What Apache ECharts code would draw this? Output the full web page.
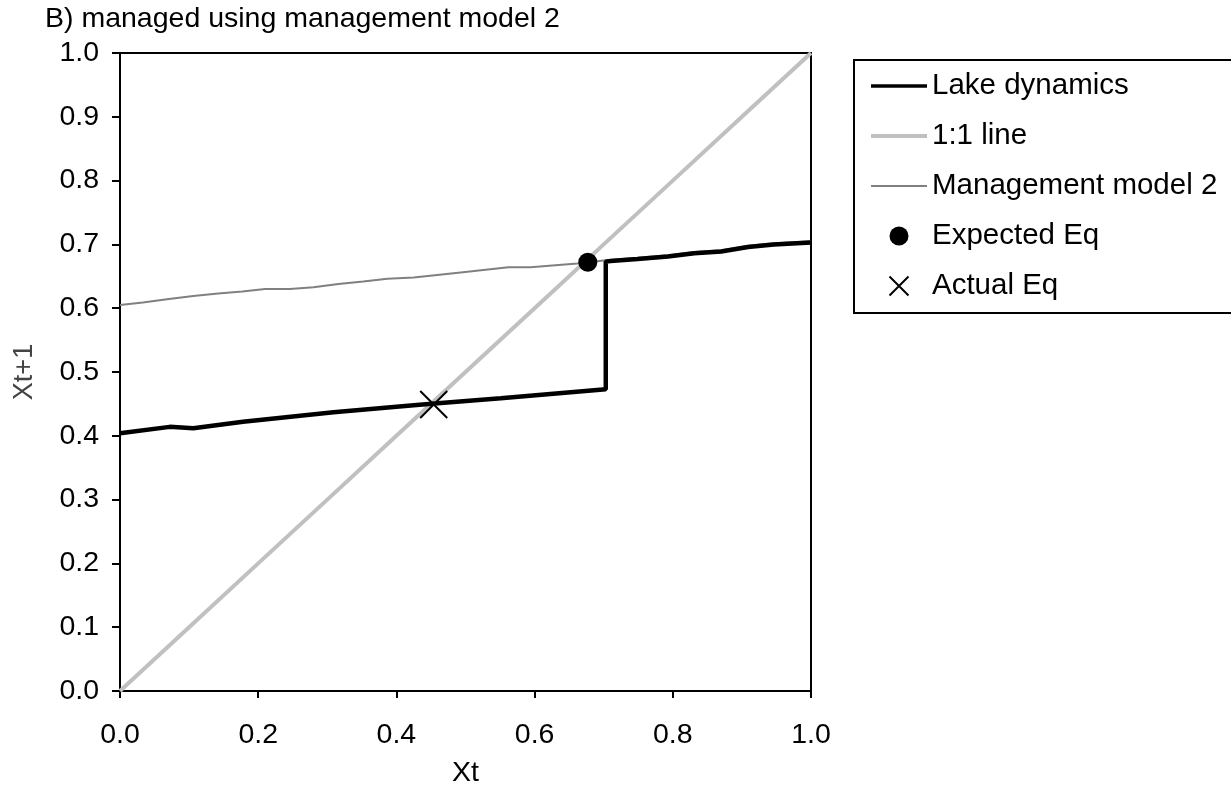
<!DOCTYPE html>
<html>
<head>
<meta charset="utf-8">
<script src="https://cdn.jsdelivr.net/npm/echarts@6/dist/echarts.min.js"></script>
<style>
html,body{margin:0;padding:0;background:#fff;}
#chart{width:1231px;height:793px;}
</style>
</head>
<body>
<div id="chart"></div>
<script>
// ---- data ----
var titleText = 'B) managed using management model 2';
var xTicks = [0.0, 0.2, 0.4, 0.6, 0.8, 1.0];
var yTicks = [0.0, 0.1, 0.2, 0.3, 0.4, 0.5, 0.6, 0.7, 0.8, 0.9, 1.0];

var lakeX = [0, 0.072, 0.106, 0.178, 0.309, 0.425, 0.46, 0.551, 0.703, 0.703, 0.71, 0.749, 0.793, 0.831, 0.870, 0.909, 0.946, 1.0];
var lakeY = [0.404, 0.414, 0.412, 0.422, 0.437, 0.448, 0.451, 0.459, 0.473, 0.673, 0.674, 0.677, 0.681, 0.686, 0.689, 0.696, 0.700, 0.703];

var oneX = [0, 0.1, 0.2, 0.3, 0.4, 0.5, 0.6, 0.7, 0.8, 0.9, 1.0];
var oneY = [0, 0.1, 0.2, 0.3, 0.4, 0.5, 0.6, 0.7, 0.8, 0.9, 1.0];

var mgmtX = [0, 0.033, 0.068, 0.106, 0.142, 0.177, 0.210, 0.246, 0.280, 0.316, 0.352, 0.387, 0.425, 0.493, 0.562, 0.594, 0.662, 0.703, 0.749, 0.793, 0.831, 0.870, 0.909, 0.946, 1.0];
var mgmtY = [0.605, 0.609, 0.614, 0.619, 0.623, 0.626, 0.630, 0.630, 0.633, 0.638, 0.642, 0.646, 0.648, 0.656, 0.664, 0.664, 0.670, 0.675, 0.679, 0.683, 0.688, 0.691, 0.698, 0.702, 0.705];

var expectedEqX = [0.677];
var expectedEqY = [0.672];
var actualEqX = [0.454];
var actualEqY = [0.449];

var seriesNames = ['Lake dynamics', '1:1 line', 'Management model 2', 'Expected Eq', 'Actual Eq'];

function pairs(xs, ys) { return xs.map(function (x, i) { return [x, ys[i]]; }); }

var FONT = 'Liberation Sans, Arial, sans-serif';
var chart = echarts.init(document.getElementById('chart'), null, {renderer: 'canvas'});
var crossPath = 'path://M0,0L20,20M20,0L0,20';
var noDot = {color: 'rgba(0,0,0,0)', borderWidth: 0, opacity: 0};

chart.setOption({
  animation: false,
  backgroundColor: '#fff',
  textStyle: {fontFamily: FONT},
  title: {
    text: titleText,
    left: 45, top: 5, padding: 0,
    textStyle: {fontFamily: FONT, fontSize: 28.5, fontWeight: 'normal', color: '#000'}
  },
  grid: {left: 120, right: 420, top: 53, bottom: 100, show: true, borderColor: '#000', borderWidth: 2, backgroundColor: 'transparent'},
  legend: {
    orient: 'vertical', left: 854, top: 60,
    padding: [11, 20, 12, 15],
    borderColor: '#000', borderWidth: 2,
    itemWidth: 56, itemHeight: 19, itemGap: 20,
    selectedMode: false,
    textStyle: {fontFamily: FONT, fontSize: 29.5, color: '#000', lineHeight: 29},
    data: [
      {name: seriesNames[0], itemStyle: noDot, lineStyle: {color: '#000', width: 3.5}},
      {name: seriesNames[1], itemStyle: noDot, lineStyle: {color: '#c0c0c0', width: 4}},
      {name: seriesNames[2], itemStyle: noDot, lineStyle: {color: '#808080', width: 2}},
      {name: seriesNames[3]},
      {name: seriesNames[4]}
    ]
  },
  xAxis: {
    type: 'value', min: 0, max: 1, interval: 0.2,
    name: 'Xt', nameLocation: 'middle', nameGap: 68,
    nameTextStyle: {fontFamily: FONT, fontSize: 28.5, color: '#000'},
    axisLine: {show: true, onZero: false, lineStyle: {color: '#000', width: 2}},
    axisTick: {show: true, inside: false, length: 7, lineStyle: {color: '#000', width: 2}},
    axisLabel: {margin: 30, fontFamily: FONT, fontSize: 28.5, color: '#000',
      formatter: function (v) { return v.toFixed(1); }},
    splitLine: {show: false}
  },
  yAxis: {
    type: 'value', min: 0, max: 1, interval: 0.1,
    name: 'Xt+1', nameLocation: 'middle', nameGap: 82,
    nameTextStyle: {fontFamily: FONT, fontSize: 27, color: '#444'},
    axisLine: {show: true, onZero: false, lineStyle: {color: '#000', width: 2}},
    axisTick: {show: true, inside: false, length: 8, lineStyle: {color: '#000', width: 2}},
    axisLabel: {margin: 21, fontFamily: FONT, fontSize: 28.5, color: '#000',
      formatter: function (v) { return v.toFixed(1); }},
    splitLine: {show: false}
  },
  series: [
    {
      name: seriesNames[0], type: 'line', z: 4,
      data: pairs(lakeX, lakeY), symbol: 'none', showSymbol: false,
      lineStyle: {color: '#000', width: 4.5}, itemStyle: {color: '#000'}
    },
    {
      name: seriesNames[1], type: 'line', z: 2,
      data: pairs(oneX, oneY), symbol: 'none', showSymbol: false,
      lineStyle: {color: '#c0c0c0', width: 4}, itemStyle: {color: '#c0c0c0'}
    },
    {
      name: seriesNames[2], type: 'line', z: 3,
      data: pairs(mgmtX, mgmtY), symbol: 'none', showSymbol: false,
      lineStyle: {color: '#808080', width: 2}, itemStyle: {color: '#808080'}
    },
    {
      name: seriesNames[3], type: 'scatter', z: 5,
      data: pairs(expectedEqX, expectedEqY), symbol: 'circle', symbolSize: 19,
      itemStyle: {color: '#000', opacity: 1}
    },
    {
      name: seriesNames[4], type: 'scatter', z: 6,
      data: pairs(actualEqX, actualEqY), symbol: crossPath, symbolSize: 27,
      itemStyle: {color: '#000', borderColor: '#000', borderWidth: 2, opacity: 1}
    }
  ]
});
</script>
</body>
</html>
